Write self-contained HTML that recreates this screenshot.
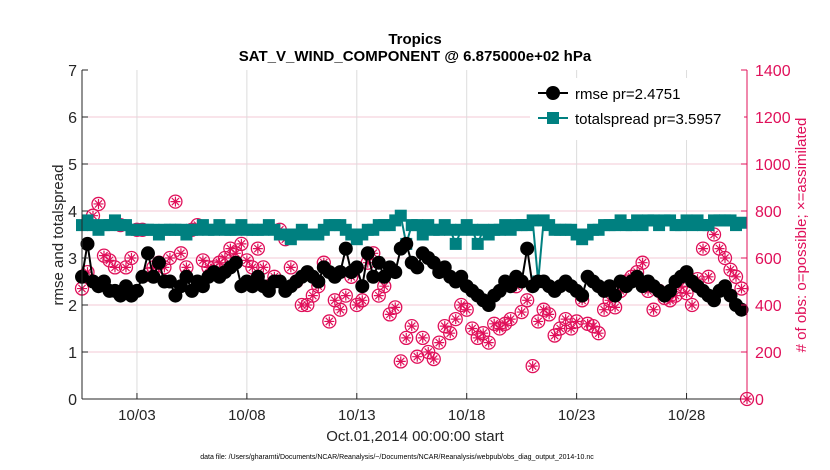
<!DOCTYPE html>
<html><head><meta charset="utf-8"><style>
body{margin:0;background:#fff;}
svg{display:block;font-family:"Liberation Sans",sans-serif;}
</style></head><body>
<svg id="chart" width="830" height="470"></svg>
<script>
const rmse=[2.6,3.3,2.5,2.4, 2.5,2.3,2.3,2.2, 2.4,2.2,2.3,2.6, 3.1,2.6,2.9,2.5, 2.5,2.2,2.4,2.6, 2.3,2.5,2.4,2.6, 2.7,2.6,2.7,2.8, 2.9,2.4,2.5,2.4, 2.6,2.4,2.3,2.5, 2.5,2.3,2.4,2.5, 2.6,2.7,2.6,2.5, 2.8,2.7,2.6,2.7, 3.2,2.7,2.8,2.4, 3.1,2.6,2.9,2.6, 2.8,2.7,3.2,3.3, 2.9,2.8,3.1,3.0, 2.9,2.7,2.8,2.6, 2.5,2.6,2.4,2.3, 2.2,2.1,2.0,2.2, 2.3,2.5,2.4,2.6, 2.5,3.2,2.4,2.5, 2.5,2.4,2.3,2.4, 2.5,2.4,2.3,2.2, 2.6,2.5,2.4,2.3, 2.4,2.2,2.5,2.4, 2.5,2.6,2.4,2.5, 2.4,2.3,2.2,2.3, 2.5,2.6,2.7,2.5, 2.4,2.3,2.2,2.1, 2.3,2.4,2.2,2.0, 1.9];
const spread=[3.7,3.8,3.7,3.6,3.7,3.7,3.8,3.7,3.7,3.6,3.6,3.6,
 3.6,3.6,3.5,3.6,3.6,3.6,3.6,3.5,3.6,3.6,3.7,3.6,
 3.6,3.7,3.6,3.6,3.6,3.7,3.6,3.6,3.6,3.6,3.7,3.6,
 3.5,3.5,3.4,3.5,3.6,3.5,3.5,3.5,3.6,3.7,3.7,3.7,
 3.6,3.5,3.4,3.5,3.6,3.6,3.7,3.7,3.7,3.8,3.9,
 3.3,3.7,3.7,3.5,3.7,3.6,3.6,3.7,3.6,
 3.3,3.6,3.7,3.6,
 3.3,3.6,3.5,3.6,3.6,3.7,3.6,3.7,3.7,3.7,3.8,
 2.5,
 3.8,3.7,3.6,3.6,3.6,3.6,3.5,3.4,3.5,3.6,3.6,3.7,3.7,3.7,3.8,3.7,3.7,3.8,3.7,3.8,3.8,3.7,3.8,3.8,3.7,3.7,3.8,3.7,3.8,3.7,3.7,3.8,3.8,3.8,3.8,3.7,3.75];
const obsPossible=[470,540,780,830, 610,590,560,740, 560,600,720,720, 530,560,580,560, 600,840,620,560, 720,740,590,560, 560,580,600,640, 620,660,590,560, 640,560,480,520, 720,680,560,500, 400,400,440,480, 580,330,420,380, 440,520,400,420, 580,620,440,480, 360,390,160,260, 310,180,260,200, 170,240,310,280, 340,400,380,300, 260,280,240,320, 300,320,340,480, 370,420,140,330, 380,360,270,300, 340,300,330,420, 320,310,280,380, 420,390,460,500, 520,540,580,460, 380,460,430,420, 440,480,450,400, 510,640,520,700, 640,600,550,520, 470,0];
const obsAssim=obsPossible.slice();
const xTickDays=[2,7,12,17,22,27];
const xTickLabels=["10/03","10/08","10/13","10/18","10/23","10/28"];
const yTicks=[0,1,2,3,4,5,6,7];
const y2Ticks=[0,200,400,600,800,1000,1200,1400];
const t0=-0.5, dt=0.25;

const L=82,R=747,T=70,B=399;
const xs=d=>L+(d-(-0.5))/(29.75-(-0.5))*(R-L);
const ys=v=>B-v/7*(B-T);
const y2s=v=>B-v/1400*(B-T);
const NS='http://www.w3.org/2000/svg';
const svg=document.getElementById('chart');
function mk(tag,attrs,parent){const e=document.createElementNS(NS,tag);for(const k in attrs)e.setAttribute(k,attrs[k]);(parent||svg).appendChild(e);return e;}
function txt(s,attrs,parent){const e=mk('text',attrs,parent);e.textContent=s;return e;}
const MAG='#e0105a';

y2Ticks.forEach(v=>{if(v>0&&v<1400){const g=mk('line',{x1:L,x2:R,y1:y2s(v),y2:y2s(v),stroke:'#f3c8d6','stroke-width':1});

}});
xTickDays.forEach(d=>{const g=mk('line',{x1:xs(d),x2:xs(d),y1:T,y2:B,stroke:'#dcdcdc','stroke-width':1});

});

const og=mk('g',{});


obsPossible.forEach((v,i)=>{const cx=xs(t0+i*dt),cy=y2s(v);
const c=mk('circle',{cx:cx,cy:cy,r:6.5,fill:'none',stroke:MAG,'stroke-width':1.3},og);

});
obsAssim.forEach((v,i)=>{const cx=xs(t0+i*dt),cy=y2s(v);
const p=mk('path',{d:`M${cx-5} ${cy}H${cx+5}M${cx} ${cy-5}V${cy+5}M${cx-3.6} ${cy-3.6}L${cx+3.6} ${cy+3.6}M${cx-3.6} ${cy+3.6}L${cx+3.6} ${cy-3.6}`,stroke:MAG,'stroke-width':1.2},og);

});

const sg=mk('g',{});


mk('polyline',{points:spread.map((v,i)=>xs(t0+i*dt)+','+ys(v)).join(' '),fill:'none',stroke:'#008080','stroke-width':2},sg);
spread.forEach((v,i)=>{const r=mk('rect',{x:xs(t0+i*dt)-6,y:ys(v)-6,width:12,height:12,fill:'#008080'},sg);

});

const rg=mk('g',{});


mk('polyline',{points:rmse.map((v,i)=>xs(t0+i*dt)+','+ys(v)).join(' '),fill:'none',stroke:'#000','stroke-width':2},rg);
rmse.forEach((v,i)=>{const c=mk('circle',{cx:xs(t0+i*dt),cy:ys(v),r:7,fill:'#000'},rg);

});

mk('line',{x1:L,x2:L,y1:T,y2:B,stroke:'#262626','stroke-width':1});
mk('line',{x1:L,x2:R,y1:B,y2:B,stroke:'#262626','stroke-width':1});
mk('line',{x1:R,x2:R,y1:T,y2:B,stroke:MAG,'stroke-width':1});
yTicks.forEach(v=>{mk('line',{x1:L,x2:L+6,y1:ys(v),y2:ys(v),stroke:'#262626'});
const t=txt(String(v),{x:L-5,y:ys(v)+6,'text-anchor':'end','font-size':16,fill:'#262626'});

});
y2Ticks.forEach(v=>{mk('line',{x1:R-6,x2:R,y1:y2s(v),y2:y2s(v),stroke:MAG});
const t=txt(String(v),{x:R+8,y:y2s(v)+6,'font-size':16,fill:MAG});

});
xTickDays.forEach((d,i)=>{mk('line',{x1:xs(d),x2:xs(d),y1:B,y2:B-6,stroke:'#262626'});
const t=txt(xTickLabels[i],{x:xs(d),y:B+21,'text-anchor':'middle','font-size':15,fill:'#262626'});

});
</script>
<div style="position:absolute;left:0;top:0;width:830px;height:470px;pointer-events:none;">
<svg width="830" height="470" style="font-family:'Liberation Sans',sans-serif">
<text x="415" y="44" text-anchor="middle" font-size="15" font-weight="bold" fill="#000">Tropics</text>
<text x="415" y="61" text-anchor="middle" font-size="15" font-weight="bold" fill="#000">SAT_V_WIND_COMPONENT @ 6.875000e+02 hPa</text>
<text transform="translate(63,235) rotate(-90)" text-anchor="middle" font-size="15" fill="#262626">rmse and totalspread</text>
<text transform="translate(806,235) rotate(-90)" text-anchor="middle" font-size="15" fill="#e0105a"># of obs: o=possible; ×=assimilated</text>
<text x="415" y="441" text-anchor="middle" font-size="15" fill="#262626">Oct.01,2014 00:00:00 start</text>
<text x="397" y="459" text-anchor="middle" font-size="7" fill="#000">data file: /Users/gharamti/Documents/NCAR/Reanalysis/~/Documents/NCAR/Reanalysis/webpub/obs_diag_output_2014-10.nc</text>
<g>
<rect x="530" y="78" width="214" height="62" fill="#fff" stroke="none"/>
<line x1="538" y1="93" x2="568" y2="93" stroke="#000" stroke-width="2"/>
<circle cx="553" cy="93" r="7" fill="#000"/>
<text x="575" y="99" font-size="15" fill="#000">rmse pr=2.4751</text>
<line x1="538" y1="118" x2="568" y2="118" stroke="#008080" stroke-width="2"/>
<rect x="547" y="112" width="12" height="12" fill="#008080"/>
<text x="575" y="124" font-size="15" fill="#000">totalspread pr=3.5957</text>
</g>
</svg></div>
</body></html>
